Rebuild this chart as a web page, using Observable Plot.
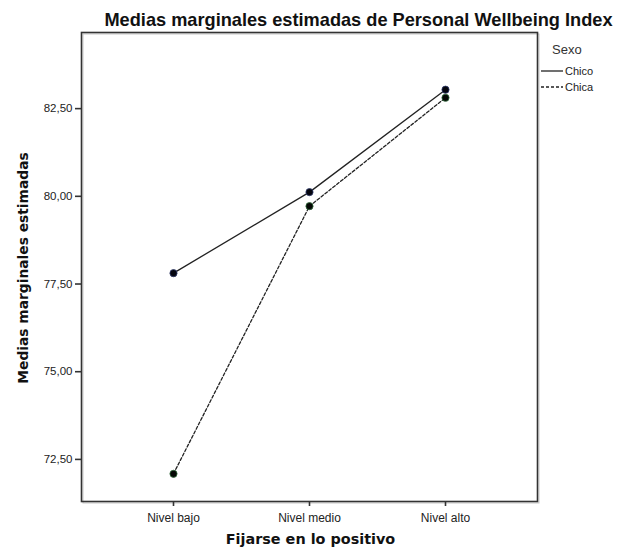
<!DOCTYPE html>
<html>
<head>
<meta charset="utf-8">
<script src="https://cdn.jsdelivr.net/npm/d3@7"></script>
<script src="https://cdn.jsdelivr.net/npm/@observablehq/plot@0.6"></script>
<style>
  html, body { margin: 0; padding: 0; background: #fff; }
  svg { font-family: "Liberation Sans", Arial, sans-serif; }
</style>
</head>
<body>
<div id="chart"></div>
<script>
const categories = ["Nivel bajo", "Nivel medio", "Nivel alto"];
const chico = [77.81, 80.12, 83.04];
const chica = [72.09, 79.72, 82.81];
const seriesNames = ["Chico", "Chica"];
const yTicks = [72.5, 75, 77.5, 80, 82.5];
const titleText = "Medias marginales estimadas de Personal Wellbeing Index";
const xLabel = "Fijarse en lo positivo";
const yLabel = "Medias marginales estimadas";
const legendTitle = "Sexo";

const data = [
  ...categories.map((c, i) => ({cat: c, value: chico[i], sexo: "Chico"})),
  ...categories.map((c, i) => ({cat: c, value: chica[i], sexo: "Chica"}))
];
const fmt = d => d3.format(".2f")(d).replace(".", ",");

const plot = Plot.plot({
  width: 626,
  height: 554,
  marginTop: 32,
  marginBottom: 53,
  marginLeft: 81,
  marginRight: 89,
  style: {fontFamily: "'Liberation Sans', Arial, sans-serif", color: "#222", background: "#fff"},
  x: {type: "point", domain: categories, padding: 0.665},
  y: {domain: [71.3, 84.67]},
  marks: [
    Plot.frame({stroke: "#c8c8c8", strokeWidth: 1, dx: 1.5, dy: 1.5}),
    Plot.frame({stroke: "#333", strokeWidth: 1.6}),
    Plot.axisY({ticks: yTicks, tickFormat: fmt, tickSize: 6, tickPadding: 3, fontSize: 11.5, stroke: "#333", strokeWidth: 1.6, label: null}),
    Plot.axisX({tickSize: 5, tickPadding: 7, fontSize: 12, stroke: "#333", strokeWidth: 1.6, label: null}),
    Plot.line(data.filter(d => d.sexo === "Chico"), {x: "cat", y: "value", stroke: "#222", strokeWidth: 1.3}),
    Plot.line(data.filter(d => d.sexo === "Chica"), {x: "cat", y: "value", stroke: "#222", strokeWidth: 1.3, strokeDasharray: "3,2"}),
    Plot.dot(data.filter(d => d.sexo === "Chica"), {x: "cat", y: "value", r: 3.6, fill: "#050805", stroke: "#2f6a3a", strokeWidth: 0.8}),
    Plot.dot(data.filter(d => d.sexo === "Chico"), {x: "cat", y: "value", r: 3.6, fill: "#05060f", stroke: "#2f3a6a", strokeWidth: 0.8}),
    Plot.text([titleText], {frameAnchor: "top", dx: 49, dy: -19, fontSize: 18.2, fontWeight: "bold", fill: "#111"}),
    Plot.text([xLabel], {frameAnchor: "bottom", dx: 1, dy: 42, fontSize: 14.4, fontWeight: "bold", fill: "#111", fontFamily: "'DejaVu Sans', sans-serif"}),
    Plot.text([yLabel], {frameAnchor: "left", textAnchor: "middle", rotate: -90, dx: -58, dy: 1, fontSize: 13.8, fontWeight: "bold", fill: "#111", fontFamily: "'DejaVu Sans', sans-serif"})
  ]
});

// Legend
const svg = d3.select(plot);
const lg = svg.append("g").attr("font-family", "'Liberation Sans', Arial, sans-serif").attr("text-anchor", "start");
lg.append("text").attr("x", 552).attr("y", 49).attr("dy", "0.35em")
  .attr("font-size", 13).attr("fill", "#333").text(legendTitle);
seriesNames.forEach((name, i) => {
  const yy = 71 + i * 16;
  lg.append("line").attr("x1", 541).attr("x2", 563).attr("y1", yy).attr("y2", yy)
    .attr("stroke", "#222").attr("stroke-width", 1.3)
    .attr("stroke-dasharray", i === 1 ? "3,2" : null);
  lg.append("text").attr("x", 565).attr("y", yy).attr("dy", "0.35em")
    .attr("font-size", 11).attr("fill", "#222").text(name);
});

document.getElementById("chart").appendChild(plot);
</script>
</body>
</html>
